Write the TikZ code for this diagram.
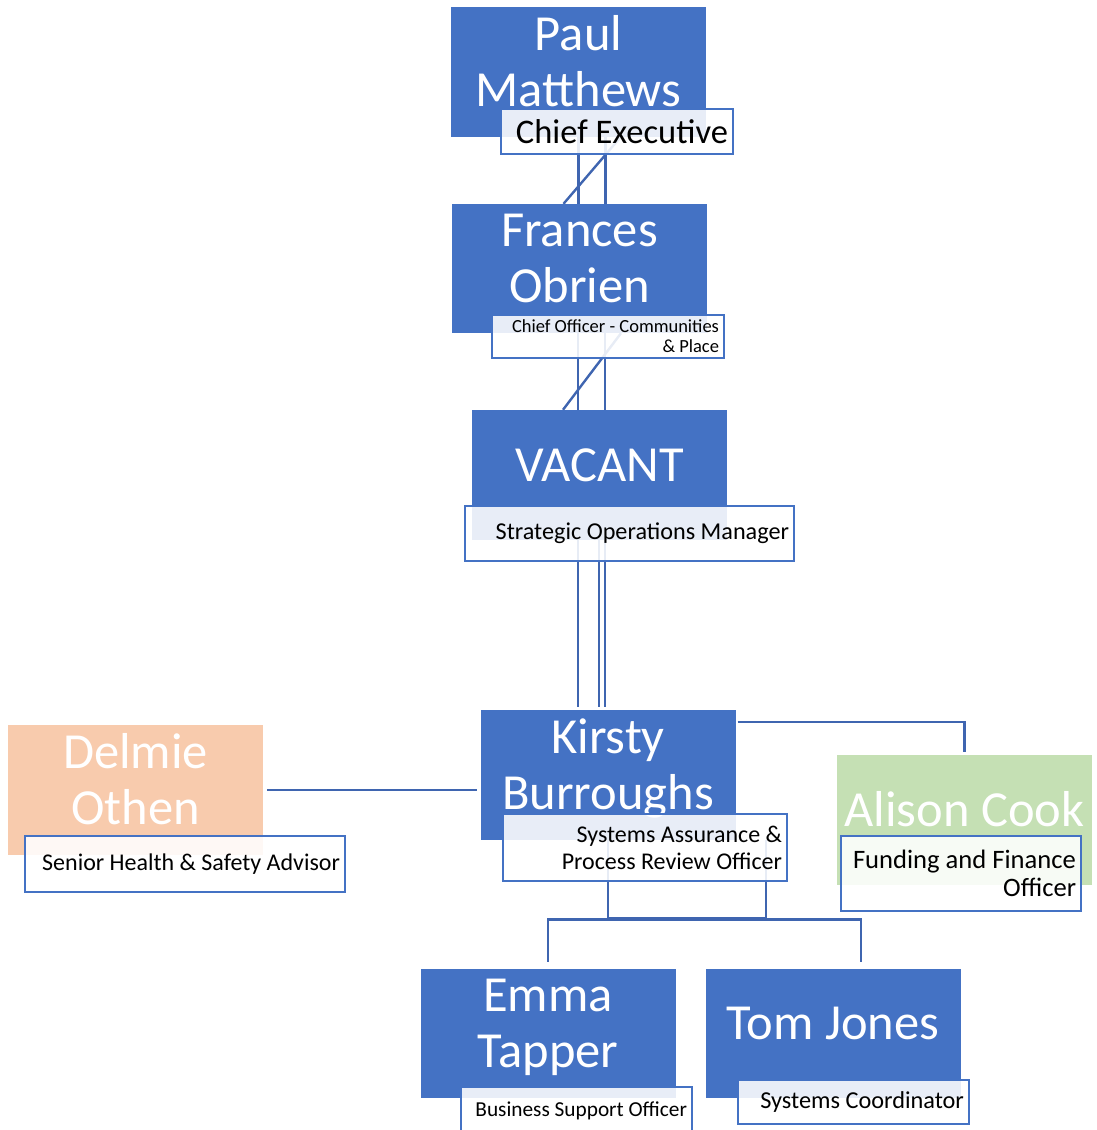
\documentclass[tikz,border=0pt]{standalone}
\usepackage{fontspec}
\setmainfont{Carlito}
\usetikzlibrary{backgrounds}
\definecolor{chartblue}{HTML}{4472C4}
\definecolor{chartline}{HTML}{3F65B0}
\definecolor{chartpeach}{HTML}{F8CBAD}
\definecolor{chartgreen}{HTML}{C5E0B4}
\newcommand{\personname}[1]{\raisebox{5pt}[\height][\depth]{\begin{tabular}{@{}c@{}}#1\end{tabular}}}
\begin{document}
\begin{tikzpicture}[x=1pt, y=-1pt,
  person/.style={fill=chartblue, text=white, minimum width=255pt, minimum height=130pt,
                 inner sep=0pt, font=\fontsize{50.5}{56}\selectfont},
  role/.style={draw=chartblue, line width=2pt, fill=white, fill opacity=0.88,
               text opacity=1, text=black, inner xsep=5pt, inner ysep=0pt, align=flush right},
  link/.style={draw=chartline, line width=2.4pt}
]
\useasboundingbox (0,0) rectangle (1096,1130);
% people
\node[person] (paul) at (578.5,72) {\personname{Paul\\Matthews}};
\node[person, minimum height=129pt] (frances) at (579.5,268.5) {\personname{Frances\\Obrien}};
\node[person] (vacant) at (599.5,475) {\personname{VACANT}};
\node[person] (kirsty) at (608,775) {\personname{Kirsty\\Burroughs}};
\node[person, fill=chartpeach] (delmie) at (135.5,790) {\personname{Delmie\\Othen}};
\node[person, fill=chartgreen] (alison) at (964.5,820) {\personname{Alison Cook}};
\node[person, minimum height=129pt] (emma) at (548,1033.5) {\personname{Emma\\Tapper}};
\node[person, minimum height=129pt] (tom) at (833,1033.5) {\personname{Tom Jones}};
% reporting lines
\begin{scope}[on background layer]
\draw[link] (paul.south) -- ([xshift=-1pt]frances.north);
\draw[link] ([xshift=27pt]paul.south) -- ([xshift=26pt]frances.north);
\draw[link] ([xshift=42pt]paul.south) -- ([xshift=-16pt]frances.north);
\draw[link] ([xshift=-1.5pt]frances.south) -- ([xshift=-21.5pt]vacant.north);
\draw[link] ([xshift=25.5pt]frances.south) -- ([xshift=5.5pt]vacant.north);
\draw[link] ([xshift=41.5pt]frances.south) -- ([xshift=-36.5pt]vacant.north);
\draw[link] ([xshift=-21.5pt]vacant.south) -- ([xshift=-30pt,yshift=3pt]kirsty.north);
\draw[link] ([xshift=-0.5pt]vacant.south) -- ([xshift=-9pt,yshift=3pt]kirsty.north);
\draw[link] ([xshift=5.5pt]vacant.south) -- ([xshift=-3pt,yshift=3pt]kirsty.north);
\draw[link] ([xshift=2pt,yshift=53pt]kirsty.east) -| ([yshift=3pt]alison.north);
\draw[link] ([xshift=4pt]delmie.east) -- ([xshift=-3pt]delmie.east -| kirsty.west);
\draw[link] (kirsty.south) -- ([yshift=-78pt]kirsty.south) -| ([xshift=158pt]kirsty.south);
\draw[link] ([yshift=7pt]emma.north) -- ([yshift=49.5pt]emma.north) -| ([xshift=28pt,yshift=7pt]tom.north);
\end{scope}
% job titles
\node[role, text width=222pt, minimum height=45pt, font=\fontsize{34.5}{38}\selectfont] (paulrole) at (617,131.5) {Chief Executive};
\node[role, text width=222pt, minimum height=43pt, font=\fontsize{18.5}{20}\selectfont] (francesrole) at (608,336.5) {Chief Officer - Communities\\\& Place};
\node[role, text width=319pt, minimum height=55pt, font=\fontsize{24.2}{27}\selectfont] (vacantrole) at (629.5,533) {Strategic Operations Manager};
\node[role, text width=274pt, minimum height=67pt, font=\fontsize{24}{27}\selectfont] (kirstyrole) at (645,847.5) {Systems Assurance \&\\Process Review Officer};
\node[role, text width=310pt, minimum height=56pt, font=\fontsize{24}{27}\selectfont] (delmierole) at (185,864) {Senior Health \& Safety Advisor};
\node[role, text width=230pt, minimum height=75pt, font=\fontsize{26.6}{28}\selectfont] (alisonrole) at (961,873.5) {Funding and Finance\\Officer};
\node[role, text width=221pt, minimum height=48pt, font=\fontsize{21.3}{23}\selectfont] (emmarole) at (576.5,1111) {Business Support Officer};
\node[role, text width=221pt, minimum height=44pt, font=\fontsize{24.3}{27}\selectfont] (tomrole) at (853.5,1102) {Systems Coordinator};
\end{tikzpicture}
\end{document}
